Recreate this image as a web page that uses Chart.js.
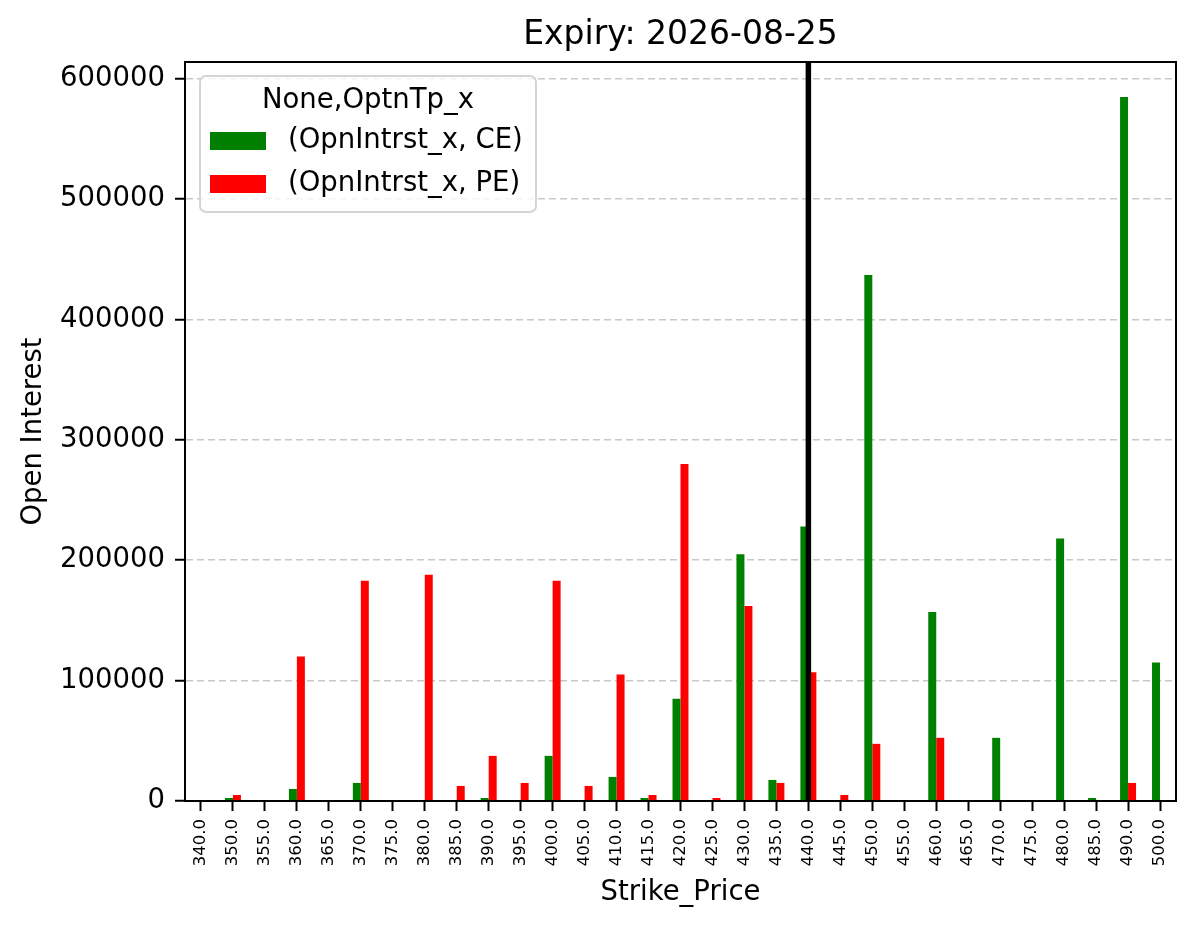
<!DOCTYPE html>
<html>
<head>
<meta charset="utf-8">
<script src="https://cdn.jsdelivr.net/npm/chart.js@4"></script>
<style>
  html, body { margin: 0; padding: 0; background: #fff; }
  #wrap { width: 1197px; height: 928px; }
</style>
</head>
<body>
<div id="wrap"><canvas id="oiChart" width="1197" height="928"></canvas></div>
<script>
const strikes = ["340.0", "350.0", "355.0", "360.0", "365.0", "370.0", "375.0", "380.0", "385.0", "390.0",
  "395.0", "400.0", "405.0", "410.0", "415.0", "420.0", "425.0", "430.0", "435.0", "440.0",
  "445.0", "450.0", "455.0", "460.0", "465.0", "470.0", "475.0", "480.0", "485.0", "490.0", "500.0"];

const ceOI = [0, 2500, 0, 10000, 0, 15000, 0, 0, 0, 2500,
  0, 37500, 0, 20000, 2500, 85000, 0, 205000, 17500, 228000,
  0, 437000, 0, 157000, 0, 52500, 0, 218000, 2500, 585000, 115000];

const peOI = [0, 5000, 0, 120000, 0, 183000, 0, 188000, 12500, 37500,
  15000, 183000, 12500, 105000, 5000, 280000, 2500, 162000, 15000, 107000,
  5000, 47500, 0, 52500, 0, 0, 0, 0, 0, 15000, 0];

const atmStrike = "440.0";
const yTicks = [0, 100000, 200000, 300000, 400000, 500000, 600000];
const chartTitle = "Expiry: 2026-08-25";

const font = "'DejaVu Sans', sans-serif";

// title centred over the axes, spines on top/right + the ATM marker line
const framePlugin = {
  id: "frame",
  afterDatasetsDraw(chart) {
    const { ctx, chartArea: a, scales } = chart;
    const x = scales.x.getPixelForValue(strikes.indexOf(atmStrike));
    ctx.save();
    ctx.strokeStyle = "#000";
    ctx.lineWidth = 5.5;
    ctx.beginPath();
    ctx.moveTo(x, a.top);
    ctx.lineTo(x, a.bottom);
    ctx.stroke();
    ctx.lineWidth = 2;
    ctx.strokeRect(a.left, a.top, a.right - a.left, a.bottom - a.top);

    ctx.fillStyle = "#000";
    ctx.font = "33px " + font;
    ctx.textAlign = "center";
    ctx.textBaseline = "middle";
    ctx.fillText(chartTitle, (a.left + a.right) / 2, a.top - 27);
    ctx.restore();
  },
};

// matplotlib style legend box inside the plot
const legendBox = {
  id: "legendBox",
  afterDraw(chart) {
    const { ctx, chartArea: a } = chart;
    const x0 = a.left + 15, y0 = a.top + 14, w = 336, h = 136;
    ctx.save();
    ctx.fillStyle = "rgba(255,255,255,0.8)";
    ctx.strokeStyle = "#d4d4d4";
    ctx.lineWidth = 2;
    ctx.beginPath();
    ctx.roundRect(x0, y0, w, h, 6);
    ctx.fill();
    ctx.stroke();

    ctx.fillStyle = "#000";
    ctx.font = "27.5px " + font;
    ctx.textAlign = "center";
    ctx.textBaseline = "middle";
    ctx.fillText("None,OptnTp_x", x0 + w / 2, y0 + 25);

    ctx.textAlign = "left";
    chart.data.datasets.forEach((ds, i) => {
      const cy = y0 + 65 + i * 43;
      ctx.fillStyle = ds.backgroundColor;
      ctx.fillRect(x0 + 10, cy - 9, 56, 18);
      ctx.fillStyle = "#000";
      ctx.fillText(ds.label, x0 + 88, cy);
    });
    ctx.restore();
  },
};

new Chart(document.getElementById("oiChart"), {
  type: "bar",
  data: {
    labels: strikes,
    datasets: [
      { label: "(OpnIntrst_x, CE)", data: ceOI, backgroundColor: "#008000" },
      { label: "(OpnIntrst_x, PE)", data: peOI, backgroundColor: "#ff0000" },
    ],
  },
  options: {
    responsive: false,
    animation: false,
    layout: { padding: { left: 0, right: 21, top: 62, bottom: 0 } },
    datasets: { bar: { categoryPercentage: 0.5, barPercentage: 1.0 } },
    plugins: {
      legend: { display: false },
      tooltip: { enabled: false },
      title: { display: false },
    },
    scales: {
      x: {
        offset: true,
        grid: { display: true, drawOnChartArea: false, drawTicks: true, tickLength: 10, tickColor: "#000", tickWidth: 2, offset: false },
        border: { display: true, color: "#000", width: 2 },
        ticks: {
          autoSkip: false,
          minRotation: 90,
          maxRotation: 90,
          color: "#000",
          padding: 8,
          font: { family: font, size: 16.5 },
        },
        title: {
          display: true,
          text: "Strike_Price",
          color: "#000",
          font: { family: font, size: 27.5 },
          padding: { top: 19, bottom: 19 },
        },
        afterFit(scale) { scale.height = 127; },
      },
      y: {
        min: 0,
        max: 614000,
        grid: {
          color: "#c8c8c8",
          lineWidth: 1.6,
          tickColor: "#000",
          tickLength: 10,
          tickWidth: 2,
          tickBorderDash: [1, 0],
        },
        border: { display: true, color: "#000", width: 2, dash: [7, 4] },
        afterBuildTicks(scale) { scale.ticks = yTicks.map((v) => ({ value: v })); },
        ticks: {
          color: "#000",
          padding: 10,
          font: { family: font, size: 27.5 },
          callback: (v) => String(v),
        },
        title: {
          display: true,
          text: "Open Interest",
          color: "#000",
          font: { family: font, size: 27.5 },
          padding: { top: 17, bottom: 17 },
        },
        afterFit(scale) { scale.width = 185; },
      },
    },
  },
  plugins: [framePlugin, legendBox],
});
</script>
</body>
</html>
